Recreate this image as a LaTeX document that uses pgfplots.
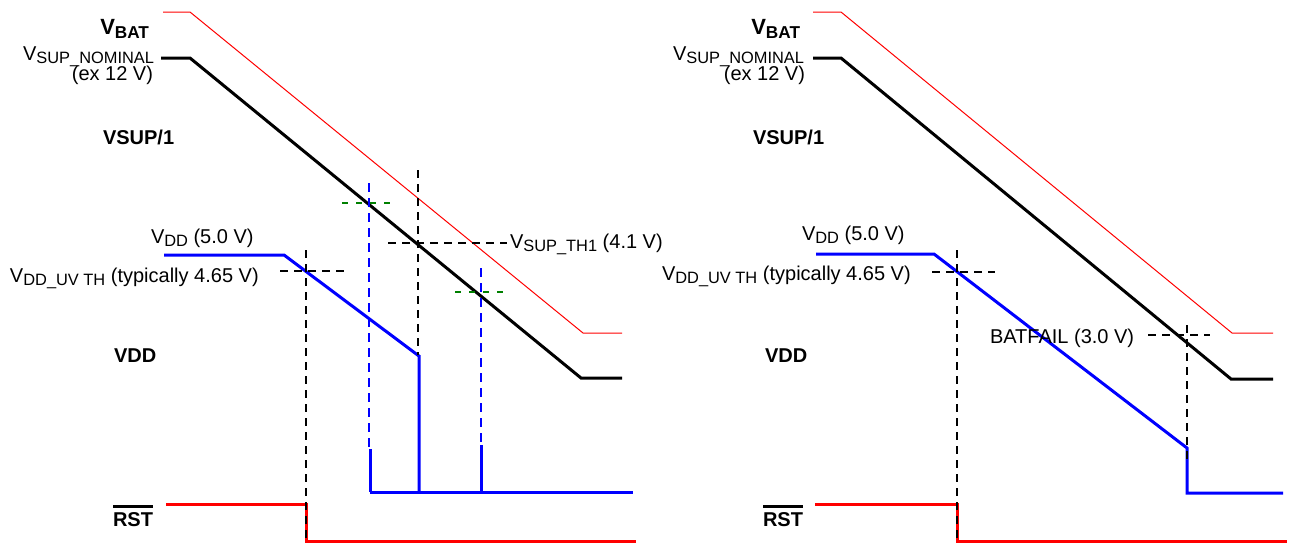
\documentclass[border=0pt]{standalone}
\usepackage{fontspec}
\setmainfont{Liberation Sans}
\usepackage{pgfplots}
\pgfplotsset{compat=1.18}
\definecolor{dgreen}{RGB}{0,128,0}
\newcommand\sub[1]{\raisebox{-0.35ex}{\fontsize{8.2}{9}\selectfont #1}}
\newcommand\bsub[1]{\raisebox{-0.35ex}{\fontsize{8.6}{9}\selectfont\bfseries #1}}
\newcommand\rst{\vbox{\hrule height 1.3pt\kern 2.2pt\hbox{\bfseries RST}}}
\tikzset{lbl/.style={font=\fontsize{10}{12}\selectfont, inner sep=0pt, outer sep=0pt}}
\begin{document}
\begin{tikzpicture}
\begin{axis}[scale only axis, width=645pt, height=273pt,
  xmin=0, xmax=1290, ymin=0, ymax=546, y dir=reverse,
  hide axis, clip=false,
  bdash/.style={black, line width=1pt, dash pattern=on 4pt off 3pt},
  bldash/.style={blue, line width=1pt, dash pattern=on 4.5pt off 3pt},
  gdash/.style={dgreen, line width=1pt, dash pattern=on 3pt off 4pt}]
\path (axis cs:0,0) rectangle (axis cs:1290,546);
% ---------- left panel ----------
\addplot[red, line width=0.5pt] coordinates {(163,12)(190,12)(583,333)(622,333)};
\addplot[black, line width=1.5pt] coordinates {(161,58)(190,58)(581,378)(622,378)};
\addplot[blue, line width=1.5pt] coordinates {(164,255)(284,255)(419,356)(419,492)};
\addplot[blue, line width=1.5pt] coordinates {(370,492)(633,492)};
\addplot[blue, line width=1.5pt] coordinates {(370,449)(370,492)};
\addplot[blue, line width=1.5pt] coordinates {(481,445)(481,492)};
\addplot[red, line width=1.5pt] coordinates {(166,504)(306,504)(306,541)(636,541)};
\addplot[bdash] coordinates {(418,170)(418,355)};
\addplot[bdash] coordinates {(388,243)(507,243)};
\addplot[bdash] coordinates {(280,271)(345,271)};
\addplot[bdash] coordinates {(306,250)(306,540)};
\addplot[bldash] coordinates {(369,183)(369,450)};
\addplot[bldash] coordinates {(481,268)(481,445)};
\addplot[gdash] coordinates {(342,203)(390,203)};
\addplot[gdash] coordinates {(455,292)(503,292)};
\node[lbl, anchor=base east] at (axis cs:149,34) {\bfseries\fontsize{11}{12}\selectfont V\bsub{BAT}};
\node[lbl, anchor=base east] at (axis cs:154,60) {V\sub{SUP\_NOMINAL}};
\node[lbl, anchor=base east] at (axis cs:153,80) {(ex 12 V)};
\node[lbl, anchor=base west] at (axis cs:103,144) {\bfseries VSUP/1};
\node[lbl, anchor=base west] at (axis cs:151,243) {V\sub{DD} (5.0 V)};
\node[lbl, anchor=base west] at (axis cs:10,282) {V\sub{DD\_UV TH} (typically 4.65 V)};
\node[lbl, anchor=base west] at (axis cs:114,362) {\bfseries VDD};
\node[lbl, anchor=base west] at (axis cs:113,526) {\rst};
\node[lbl, anchor=base west] at (axis cs:510,248) {V\sub{SUP\_TH1} (4.1 V)};
% ---------- right panel ----------
\addplot[red, line width=0.5pt] coordinates {(813,12)(841,12)(1232,333)(1273,333)};
\addplot[black, line width=1.5pt] coordinates {(813,58)(841,58)(1231,379)(1273,379)};
\addplot[blue, line width=1.5pt] coordinates {(816,254)(934,254)(1187,448)(1187,493)(1283,493)};
\addplot[red, line width=1.5pt] coordinates {(815,504)(957,504)(957,541)(1287,541)};
\addplot[bdash] coordinates {(1187,325)(1187,460)};
\addplot[bdash] coordinates {(1148,335)(1210,335)};
\addplot[bdash] coordinates {(932,272)(995,272)};
\addplot[bdash] coordinates {(957,250)(957,540)};
\node[lbl, anchor=base east] at (axis cs:800,34) {\bfseries\fontsize{11}{12}\selectfont V\bsub{BAT}};
\node[lbl, anchor=base east] at (axis cs:804,60) {V\sub{SUP\_NOMINAL}};
\node[lbl, anchor=base east] at (axis cs:805,80) {(ex 12 V)};
\node[lbl, anchor=base west] at (axis cs:753,144) {\bfseries VSUP/1};
\node[lbl, anchor=base west] at (axis cs:802,240) {V\sub{DD} (5.0 V)};
\node[lbl, anchor=base west] at (axis cs:662,280) {V\sub{DD\_UV TH} (typically 4.65 V)};
\node[lbl, anchor=base west] at (axis cs:765,362) {\bfseries VDD};
\node[lbl, anchor=base west] at (axis cs:763,526) {\rst};
\node[lbl, anchor=base west] at (axis cs:990,343) {BATFAIL (3.0 V)};
\end{axis}
\end{tikzpicture}
\end{document}
